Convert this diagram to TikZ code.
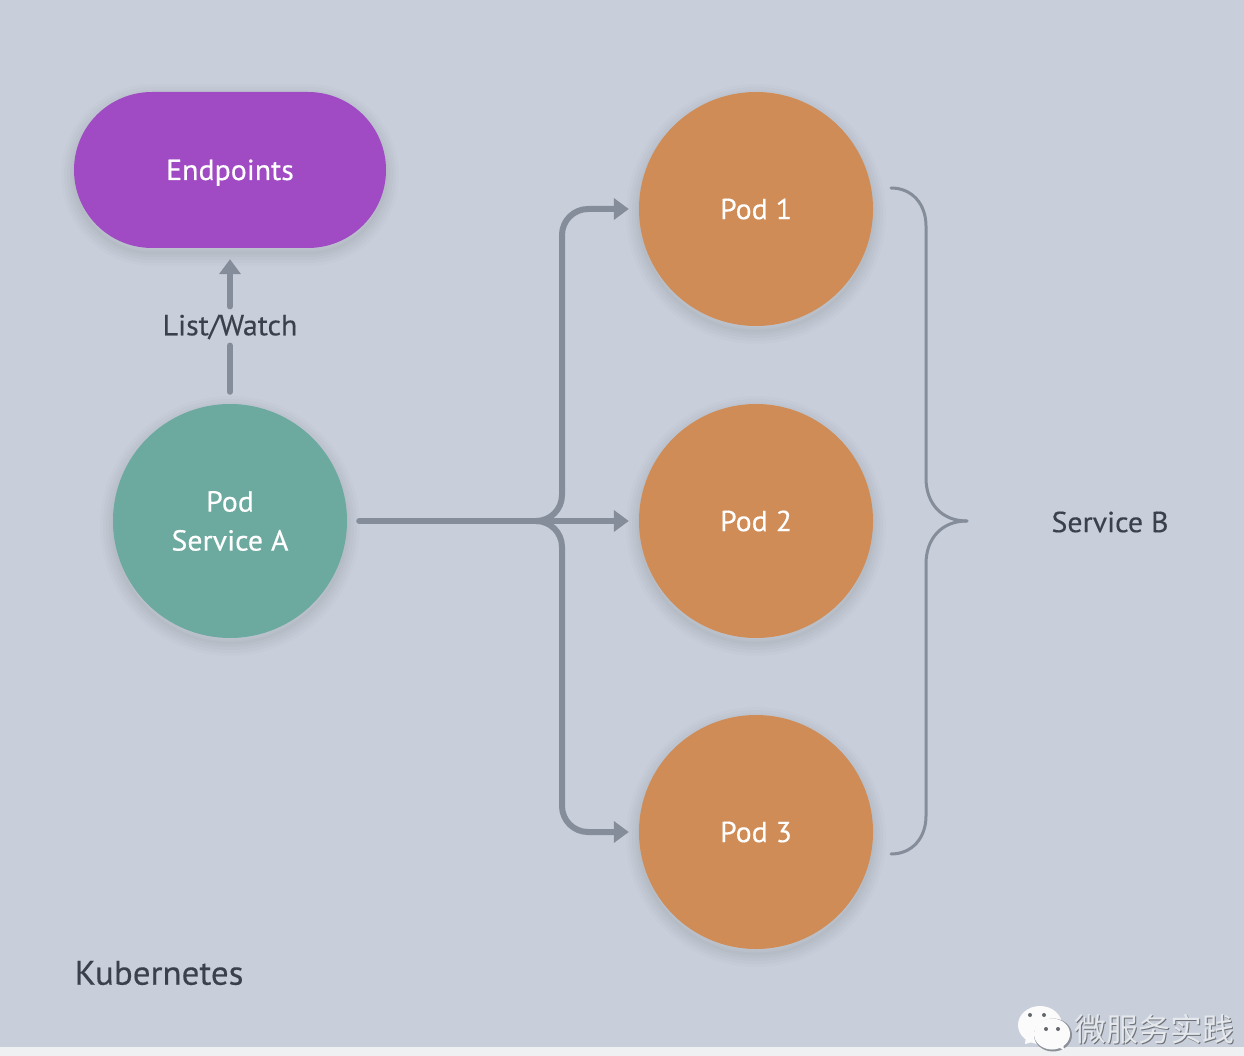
\documentclass[tikz,border=0pt]{standalone}
\usepackage{fontspec}
\setmainfont[FakeBold=0.35,FakeStretch=1.03]{PT Sans}
\newfontfamily\cjk{Noto Sans CJK SC}
\usetikzlibrary{arrows.meta}
\definecolor{bgc}{HTML}{C8CFDA}
\definecolor{stripc}{HTML}{EEF0F2}
\definecolor{purp}{HTML}{A04AC4}
\definecolor{teal1}{HTML}{6CA99F}
\definecolor{orng}{HTML}{CF8C56}
\definecolor{linec}{HTML}{858D9A}
\definecolor{txt}{HTML}{3A404C}
\definecolor{wm}{HTML}{E4E7EB}
\tikzset{
  softshadow/.style={
    preaction={draw=black,draw opacity=.012,line width=26pt,transform canvas={yshift=-5pt}},
    preaction={draw=black,draw opacity=.014,line width=20pt,transform canvas={yshift=-5pt}},
    preaction={draw=black,draw opacity=.016,line width=14pt,transform canvas={yshift=-5pt}},
    preaction={draw=black,draw opacity=.018,line width=8pt,transform canvas={yshift=-5pt}},
    preaction={draw=black,draw opacity=.02,line width=3pt,transform canvas={yshift=-5pt}}},
  podc/.style={circle,draw=none,fill=orng,minimum size=234pt,inner sep=0pt,softshadow,text=white,font=\fontsize{29}{39}\selectfont},
  svcc/.style={circle,draw=none,fill=teal1,minimum size=234pt,inner sep=0pt,softshadow,text=white,align=center,font=\fontsize{29}{39}\selectfont},
  endp/.style={rectangle,rounded corners=78pt,draw=none,fill=purp,minimum width=312pt,minimum height=156pt,inner sep=0pt,softshadow,text=white,font=\fontsize{29}{39}\selectfont},
  lbl/.style={text=txt,inner sep=0pt,font=\fontsize{29}{32}\selectfont},
  conn/.style={draw=linec,line width=6pt,line cap=round,rounded corners=26pt},
  tip/.style={-{Triangle[length=15pt,width=21pt]}},
  brace/.style={draw=linec,line width=3pt,line cap=round},
  wmtext/.style={inner sep=0pt,font=\cjk\fontsize{32}{36}\selectfont}
}
\begin{document}
\begin{tikzpicture}[x=1pt,y=-1pt]
\useasboundingbox (0,0) rectangle (1244,1056);
\fill[bgc] (0,0) rectangle (1244,1056);
\fill[stripc] (0,1047) rectangle (1244,1056);

\node[endp] (ep) at (230,170) {\raisebox{-10pt}[10pt][10pt]{Endpoints}};
\node[svcc] (a) at (230,521) {Pod\\Service A};
\node[podc] (p1) at (756,209) {Pod 1};
\node[podc] (p2) at (756,521) {Pod 2};
\node[podc] (p3) at (756,832) {Pod 3};
\node[lbl] (lw) at (230,327) {List/Watch};
\node[lbl] (sb) at (1110,522) {Service B};
\node[lbl,font=\fontsize{34}{38}\selectfont] (k8s) at (159,973) {Kubernetes};

% List/Watch arrow, broken by its label
\draw[conn,shorten <=12pt,shorten >=6pt] (a.north) -- (lw.south);
\draw[conn,tip,shorten <=8pt,shorten >=11pt] (lw.north) -- (ep.south);

% fan-out from Service A
\coordinate (fork) at (538,521);
\draw[conn,tip,shorten <=12pt,shorten >=10pt] (a.east) -- (p2.west);
\draw[conn,tip,shorten >=10pt] (fork) -| (562,209) -- (p1.west);
\draw[conn,tip,shorten >=10pt] (fork) -| (562,832) -- (p3.west);

% brace for Service B
\coordinate (bt) at (891,188);
\coordinate (bb) at (891,854);
\coordinate (bm) at (967,521);
\draw[brace] (bt) .. controls (912,188) and (926,204) .. (926,226) -- (926,478)
  .. controls (926,504) and (942,521) .. (bm);
\draw[brace] (bb) .. controls (912,854) and (926,838) .. (926,816) -- (926,564)
  .. controls (926,538) and (942,521) .. (bm);

% watermark
\fill[white!92!bgc] (1040,1025) ellipse [x radius=22pt,y radius=19pt];
\fill[white!92!bgc] (1026,1036) -- (1025,1044) -- (1036,1041) -- cycle;
\fill[bgc!70!black] (1053,1035) ellipse [x radius=19pt,y radius=16.5pt];
\fill[white!92!bgc] (1052,1034) ellipse [x radius=18pt,y radius=15.5pt];
\fill[white!92!bgc] (1056,1046) -- (1064,1050) -- (1063,1043) -- cycle;
\fill[bgc!50!black] (1030,1015) circle (2pt) (1044,1015) circle (2pt) (1046,1029) circle (2pt) (1058,1029) circle (2pt);
\node[wmtext,text=black!45!bgc] at (1155.5,1030.5) {微服务实践};
\node[wmtext,text=wm] (wmk) at (1154,1029) {微服务实践};
\end{tikzpicture}
\end{document}
